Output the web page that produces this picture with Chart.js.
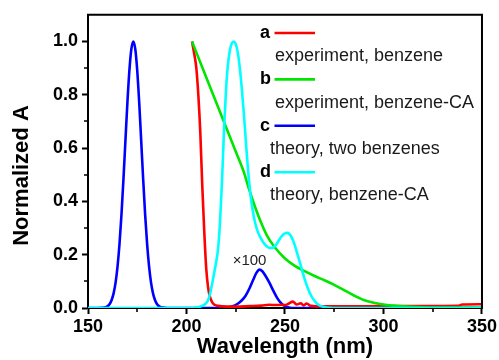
<!DOCTYPE html>
<html>
<head>
<meta charset="utf-8">
<script src="https://cdn.jsdelivr.net/npm/chart.js@4.4.1/dist/chart.umd.min.js"></script>
<style>
  html, body { margin: 0; padding: 0; background: #fff; }
  #wrap { width: 499px; height: 360px; }
</style>
</head>
<body>
<div id="wrap"><canvas id="chart" width="499" height="360"></canvas></div>
<script>
// values (wavelength in nm, normalized absorbance)
const aX = [202.8, 204, 205, 206, 207, 208, 209, 210, 211, 212, 213, 214, 216, 218, 225, 232, 238, 242, 245, 248, 250, 252, 254, 256, 258, 259.5, 261, 263, 266, 280, 300, 320, 338, 340, 350];
const aY = [1.0, 0.95, 0.9, 0.8, 0.66, 0.46, 0.29, 0.15, 0.075, 0.04, 0.022, 0.013, 0.008, 0.006, 0.005, 0.007, 0.009, 0.012, 0.011, 0.012, 0.011, 0.017, 0.024, 0.013, 0.018, 0.01, 0.017, 0.008, 0.006, 0.006, 0.007, 0.007, 0.008, 0.013, 0.014];

const bX = [202.8, 210, 215, 220, 225, 229, 232, 235, 238, 241, 245, 250, 255, 260, 265, 270, 275, 280, 285, 290, 295, 300, 305, 310, 320, 330, 350];
const bY = [1.0, 0.866, 0.773, 0.68, 0.587, 0.512, 0.44, 0.375, 0.318, 0.27, 0.226, 0.186, 0.158, 0.138, 0.12, 0.104, 0.087, 0.067, 0.047, 0.03, 0.02, 0.013, 0.009, 0.006, 0.003, 0.002, 0.001];

const cX = [150, 157, 159, 160, 161, 162, 163, 164, 165, 166, 167, 168, 169, 170, 171, 172, 173, 174, 175, 176, 177, 178, 179, 180, 181, 182, 183, 184, 185, 186, 187, 189, 192,
            218, 220, 223, 226, 228, 230, 232, 234, 235.5, 237, 238.5, 240, 242, 244, 246, 248, 250, 252, 255, 350];
const cY = [0, 0.001, 0.003, 0.007, 0.015, 0.03, 0.055, 0.095, 0.156, 0.241, 0.351, 0.484, 0.628, 0.77, 0.89, 0.971, 1.0, 0.971, 0.89, 0.77, 0.628, 0.484, 0.351, 0.241, 0.156, 0.095, 0.055, 0.03, 0.015, 0.007, 0.003, 0.001, 0,
            0, 0.002, 0.006, 0.016, 0.028, 0.046, 0.074, 0.108, 0.132, 0.144, 0.138, 0.122, 0.096, 0.066, 0.038, 0.018, 0.007, 0.002, 0, 0];

const dX = [150, 200, 205, 208, 210, 211, 212, 213, 214, 215, 216, 217, 218, 219, 220, 221, 222, 223, 224, 225, 226, 227, 228, 229, 230, 231, 232, 233, 234, 235, 236, 237, 238, 239, 240, 241, 242, 243, 244, 245, 246, 247, 248, 249, 250, 251, 252, 253, 254, 255, 256, 257, 258, 259, 260, 261, 262, 263, 264, 266, 268, 270, 273, 275, 350];
const dY = [0, 0, 0.002, 0.008, 0.018, 0.03, 0.055, 0.09, 0.13, 0.17, 0.22, 0.32, 0.47, 0.66, 0.81, 0.91, 0.965, 0.993, 1.0, 0.99, 0.96, 0.905, 0.83, 0.74, 0.64, 0.54, 0.46, 0.395, 0.35, 0.315, 0.29, 0.272, 0.258, 0.246, 0.237, 0.23, 0.226, 0.225, 0.227, 0.233, 0.243, 0.255, 0.266, 0.275, 0.28, 0.282, 0.279, 0.27, 0.255, 0.235, 0.21, 0.185, 0.16, 0.133, 0.108, 0.086, 0.067, 0.05, 0.037, 0.018, 0.008, 0.004, 0.001, 0, 0];

const xTicks = [150, 200, 250, 300, 350];
const xMinor = [175, 225, 275, 325];
const yTicks = [0, 0.2, 0.4, 0.6, 0.8, 1.0];
const yMinor = [0.1, 0.3, 0.5, 0.7, 0.9];

const keys = ["a", "b", "c", "d"];
const names = ["experiment, benzene", "experiment, benzene-CA", "theory, two benzenes", "theory, benzene-CA"];
const colors = ["#ff0000", "#00e600", "#0000ff", "#00ffff"];
const scaleNote = { text: "\u00d7100", x: 232, y: 0.178 };

const FONT = "'Liberation Sans', Arial, Helvetica, sans-serif";

function pts(xs, ys) {
  return xs.map((x, i) => ({ x: x, y: ys[i] }));
}

function series(i, xs, ys, order) {
  return {
    label: keys[i],
    data: pts(xs, ys),
    borderColor: colors[i],
    borderWidth: 2.6,
    pointRadius: 0,
    fill: false,
    cubicInterpolationMode: "monotone",
    order: order,
  };
}

// minor ticks, frame, legend, y title and the x100 note
const decor = {
  id: "decor",
  afterDraw(chart) {
    const ctx = chart.ctx;
    const area = chart.chartArea;
    const xs = chart.scales.x;
    const ys = chart.scales.y;
    ctx.save();
    ctx.strokeStyle = "#000";
    ctx.lineWidth = 2;
    // frame top + right
    ctx.beginPath();
    ctx.moveTo(area.left - 1, area.top);
    ctx.lineTo(area.right, area.top);
    ctx.lineTo(area.right, area.bottom + 1);
    ctx.stroke();
    // minor ticks
    ctx.lineWidth = 1.6;
    ctx.beginPath();
    xMinor.forEach((v) => {
      const px = Math.round(xs.getPixelForValue(v));
      ctx.moveTo(px, area.bottom);
      ctx.lineTo(px, area.bottom + 4);
    });
    yMinor.forEach((v) => {
      const py = Math.round(ys.getPixelForValue(v));
      ctx.moveTo(area.left, py);
      ctx.lineTo(area.left - 4, py);
    });
    ctx.stroke();

    // legend (inside the plot)
    ctx.textBaseline = "middle";
    ctx.textAlign = "left";
    const lx = 260, rowH = 23.2, top = 33;
    keys.forEach((k, i) => {
      const y0 = top + i * 2 * rowH;
      ctx.fillStyle = "#000";
      ctx.font = "bold 18px " + FONT;
      ctx.fillText(k, lx, y0);
      ctx.strokeStyle = colors[i];
      ctx.lineWidth = 2.6;
      ctx.beginPath();
      ctx.moveTo(lx + 14.5, y0);
      ctx.lineTo(lx + 55, y0);
      ctx.stroke();
      ctx.fillStyle = "#1a1a1a";
      ctx.font = "18px " + FONT;
      ctx.fillText(names[i], i < 2 ? lx + 15 : lx + 10, y0 + rowH);
    });

    // x100 note next to the small blue band
    ctx.font = "15px " + FONT;
    ctx.fillStyle = "#222";
    ctx.textAlign = "center";
    ctx.fillText(scaleNote.text, xs.getPixelForValue(scaleNote.x), ys.getPixelForValue(scaleNote.y));

    // y axis title
    ctx.translate(22, 175.5);
    ctx.rotate(-Math.PI / 2);
    ctx.fillStyle = "#000";
    ctx.font = "bold 22px " + FONT;
    ctx.textAlign = "center";
    ctx.fillText("Normalized A", 0, 0);
    ctx.restore();
  },
};

new Chart(document.getElementById("chart"), {
  type: "line",
  data: {
    datasets: [
      series(3, dX, dY, 0),
      series(1, bX, bY, 1),
      series(0, aX, aY, 2),
      series(2, cX, cY, 3),
    ],
  },
  options: {
    responsive: false,
    animation: false,
    layout: { padding: { top: 14, right: 16, left: 0, bottom: 0 } },
    plugins: { legend: { display: false }, tooltip: { enabled: false } },
    scales: {
      x: {
        type: "linear",
        min: 150,
        max: 350,
        afterBuildTicks: (s) => { s.ticks = xTicks.map((v) => ({ value: v })); },
        afterFit: (s) => { s.height = 52; },
        grid: { display: true, drawOnChartArea: false, drawTicks: true, tickLength: 6, tickColor: "#000", tickWidth: 2 },
        border: { display: true, color: "#000", width: 2 },
        ticks: { color: "#000", padding: 2, maxRotation: 0, font: { family: FONT, size: 18, weight: "bold" } },
        title: { display: true, text: "Wavelength (nm)", color: "#000", padding: { top: 0, bottom: 0 }, font: { family: FONT, size: 22, weight: "bold" } },
      },
      y: {
        min: 0,
        max: 1.1,
        afterBuildTicks: (s) => { s.ticks = yTicks.map((v) => ({ value: v })); },
        afterFit: (s) => { s.width = 88; },
        grid: { display: true, drawOnChartArea: false, drawTicks: true, tickLength: 6, tickColor: "#000", tickWidth: 2 },
        border: { display: true, color: "#000", width: 2 },
        ticks: { color: "#000", padding: 4, callback: (v) => Number(v).toFixed(1), font: { family: FONT, size: 18, weight: "bold" } },
      },
    },
  },
  plugins: [decor],
});
</script>
</body>
</html>
